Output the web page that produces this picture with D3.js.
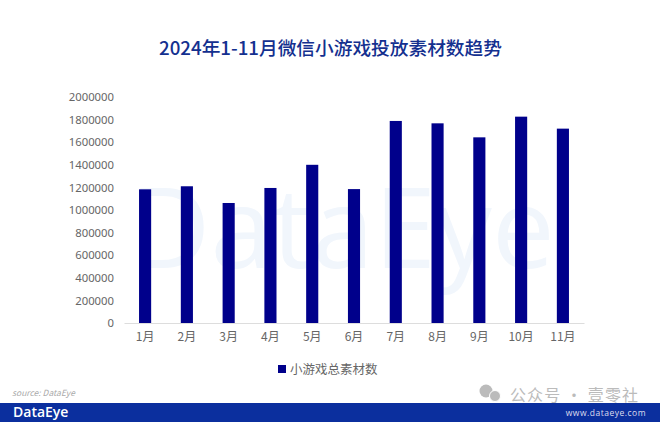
<!DOCTYPE html>
<html>
<head>
<meta charset="utf-8">
<script src="https://cdn.jsdelivr.net/npm/d3@7"></script>
<style>
html,body{margin:0;padding:0;background:#fff;}
svg{display:block;}
text{font-family:"Noto Sans CJK SC","Noto Sans",sans-serif;}
</style>
</head>
<body>
<svg id="chart" width="660" height="422"></svg>
<script>
const months = ['1月','2月','3月','4月','5月','6月','7月','8月','9月','10月','11月'];
const counts = [1183000,1210000,1062000,1195000,1400000,1185000,1788000,1767000,1643000,1826000,1720000];
const yTicks = [0,200000,400000,600000,800000,1000000,1200000,1400000,1600000,1800000,2000000];
const titleText = '2024年1-11月微信小游戏投放素材数趋势';
const seriesName = '小游戏总素材数';

const svg = d3.select('#chart');
const barColor = '#00008b';
const labelColor = '#666';
const footColor = '#0b2f9e';

// faint watermark behind the bars
svg.append('text').attr('x',342).attr('y',268).attr('text-anchor','middle')
  .attr('font-size',112).attr('fill','#f1f6fc').style('font-family','"Open Sans",sans-serif')
  .attr('textLength',425).attr('lengthAdjust','spacingAndGlyphs').text('DataEye');

svg.append('text').attr('x',330.5).attr('y',55).attr('text-anchor','middle')
  .attr('font-size',18.7).attr('font-weight',500).attr('fill','#14308f').text(titleText);

const x = d3.scaleBand().domain(months).range([124,584]).paddingInner(0.71).paddingOuter(0.36);
const y = d3.scaleLinear().domain([0,2000000]).range([323,97]);

const yAxis = svg.append('g').attr('transform','translate(124,0)')
  .call(d3.axisLeft(y).tickValues(yTicks).tickFormat(d3.format('d')).tickSize(0).tickPadding(10));
yAxis.select('.domain').remove();
yAxis.selectAll('text').attr('font-size',11.3).attr('fill',labelColor).style('font-family','"Noto Sans",sans-serif');

svg.append('g').selectAll('rect').data(counts).enter().append('rect')
  .attr('x',(d,i)=>x(months[i]))
  .attr('y',d=>y(d))
  .attr('width',x.bandwidth())
  .attr('height',d=>y(0)-y(d))
  .attr('fill',barColor);

const xAxis = svg.append('g').attr('transform','translate(0,323)')
  .call(d3.axisBottom(x).tickSize(0).tickPadding(9));
xAxis.select('.domain').attr('stroke','#ddd');
xAxis.selectAll('text').attr('font-size',12).attr('fill',labelColor);

// legend
svg.append('rect').attr('x',278).attr('y',365).attr('width',8).attr('height',8).attr('fill',barColor);
svg.append('text').attr('x',290).attr('y',374).attr('font-size',12.5).attr('fill',labelColor).text(seriesName);

svg.append('text').attr('x',12).attr('y',396).attr('font-size',8.5).attr('font-style','italic')
  .attr('fill','#aaa').text('source: DataEye');

// footer band
svg.append('rect').attr('x',0).attr('y',403).attr('width',660).attr('height',19).attr('fill',footColor);
svg.append('text').attr('x',13).attr('y',417).attr('font-size',14).attr('font-weight',600)
  .attr('fill','#fff').style('font-family','"Open Sans",sans-serif').text('DataEye');
svg.append('text').attr('x',646).attr('y',416).attr('text-anchor','end').attr('font-size',8.5)
  .attr('fill','#dde').attr('letter-spacing',0.5).style('font-family','"Open Sans",sans-serif').text('www.dataeye.com');

// wechat mark
const wm = svg.append('g').attr('fill','#bbb');
wm.append('circle').attr('cx',486).attr('cy',391).attr('r',6.5);
wm.append('circle').attr('cx',495).attr('cy',396).attr('r',5.5).attr('stroke','#fff').attr('stroke-width',1);
svg.append('text').attr('x',510).attr('y',401).attr('font-size',16).attr('fill','#bbb')
  .attr('textLength',128).attr('lengthAdjust','spacing').text('公众号 · 壹零社');
</script>
</body>
</html>
